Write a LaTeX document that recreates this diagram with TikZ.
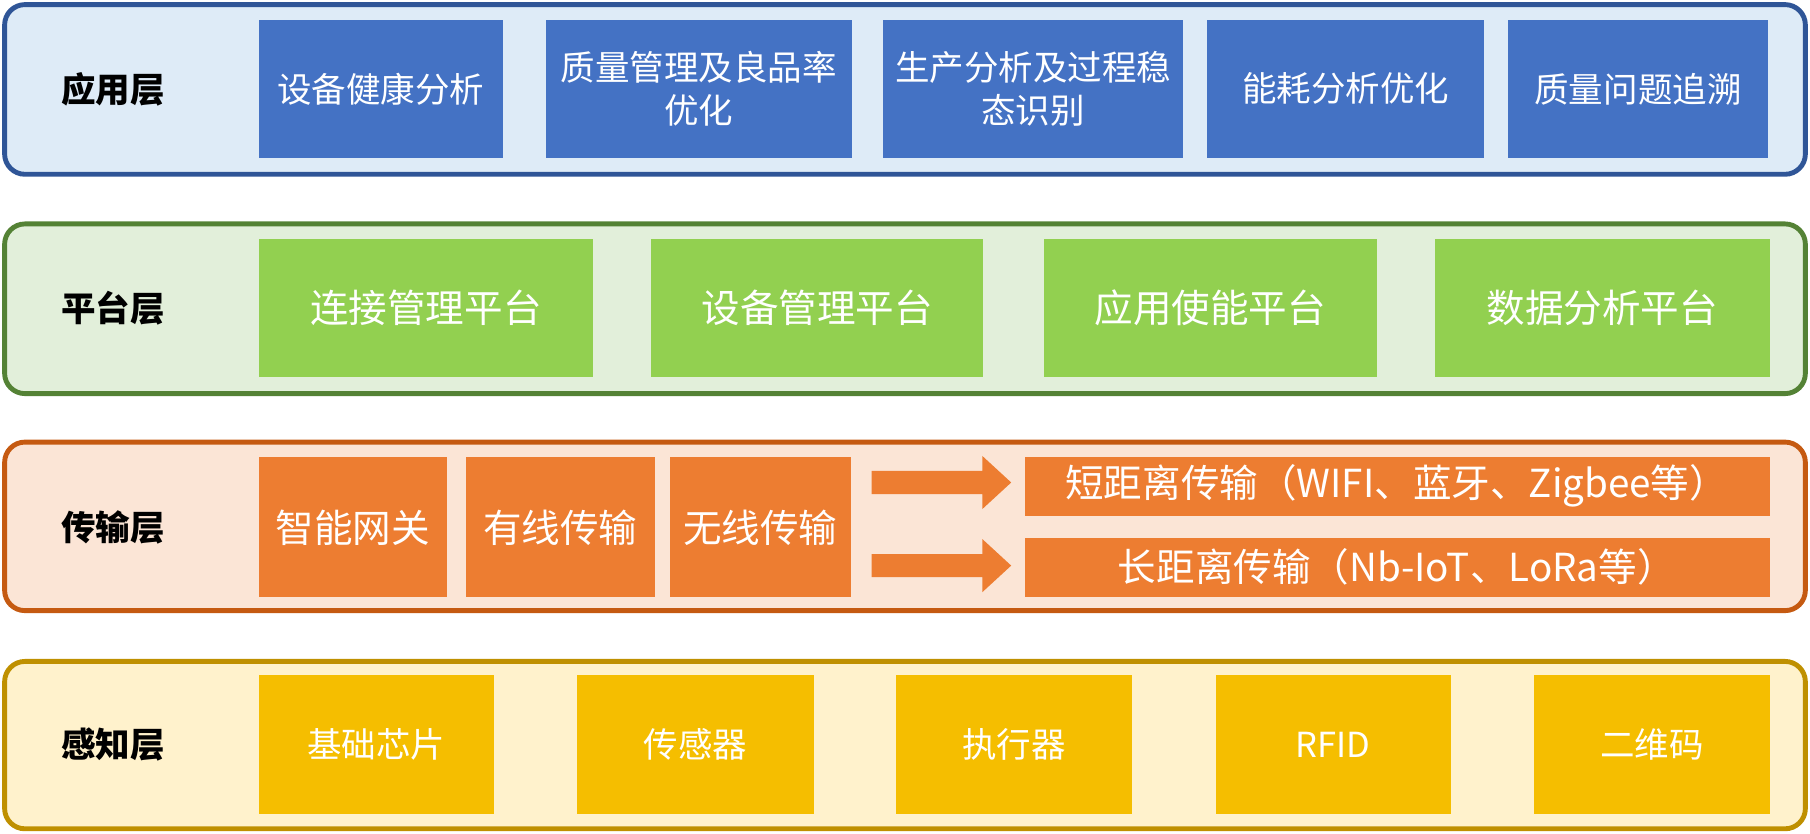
\documentclass[tikz,border=0pt]{standalone}
\usepackage{fontspec}
\setmainfont{Noto Sans CJK SC}
\begin{document}
\begin{tikzpicture}[x=0.01cm,y=-0.01cm,
 layer/.style={rounded corners=5pt,line width=1.2pt},
 bx/.style={text=white,font=\fontsize{8.5}{10.5}\selectfont,align=center},
 lab/.style={font=\fontsize{8.5}{10}\selectfont\bfseries}]
\useasboundingbox (0,0) rectangle (1568,722);
\definecolor{bB}{HTML}{2F5597}\definecolor{fB}{HTML}{DEEBF7}\definecolor{cB}{HTML}{4472C4}
\definecolor{bG}{HTML}{548235}\definecolor{fG}{HTML}{E2EFDA}\definecolor{cG}{HTML}{92D050}
\definecolor{bO}{HTML}{C55A11}\definecolor{fO}{HTML}{FBE5D6}\definecolor{cO}{HTML}{ED7D31}
\definecolor{bY}{HTML}{BF9000}\definecolor{fY}{HTML}{FFF2CC}\definecolor{cY}{HTML}{F5BE00}
% application
\draw[layer,draw=bB,fill=fB] (4,4) rectangle (1564,151);
\node[lab] (l1) at (98,77) {应用层};
\foreach \a/\b/\t [count=\i] in {224/436/设备健康分析,473/738/{质量管理及良品率\\优化},765/1025/{生产分析及过程稳\\态识别},1046/1286/能耗分析优化,1306/1532/质量问题追溯}
 {\fill[cB] (\a,17) rectangle (\b,137); \node[bx] (a\i) at ({(\a+\b)/2},77) {\t};}
% platform
\draw[layer,draw=bG,fill=fG] (4,194) rectangle (1564,341);
\node[lab] (l2) at (98,267) {平台层};
\foreach \a/\b/\t [count=\i] in {224/514/连接管理平台,564/852/设备管理平台,904/1193/应用使能平台,1243/1533/数据分析平台}
 {\fill[cG] (\a,207) rectangle (\b,327); \node[bx,font=\fontsize{9.5}{11}\selectfont] (p\i) at ({(\a+\b)/2},267) {\t};}
% transport
\draw[layer,draw=bO,fill=fO] (4,383) rectangle (1564,529);
\node[lab] (l3) at (98,457) {传输层};
\foreach \a/\b/\t [count=\i] in {224/387/智能网关,404/567/有线传输,580/737/无线传输}
 {\fill[cO] (\a,396) rectangle (\b,517); \node[bx,font=\fontsize{9.5}{11}\selectfont] (t\i) at ({(\a+\b)/2},457) {\t};}
\fill[cO] (888,396) rectangle (1533,447); \node[bx,font=\fontsize{9.5}{11}\selectfont] (s1) at (1210,421) {短距离传输（WIFI、蓝牙、Zigbee等）};
\fill[cO] (888,466) rectangle (1533,517); \node[bx,font=\fontsize{9.5}{11}\selectfont] (s2) at (1210,491) {长距离传输（Nb-IoT、LoRa等）};
\foreach \y in {418,490}
 \fill[cO] (755,\y-10) -- (851,\y-10) -- (851,\y-23) -- (876,\y) -- (851,\y+23) -- (851,\y+10) -- (755,\y+10) -- cycle;
% perception
\draw[layer,draw=bY,fill=fY] (4,573) rectangle (1564,718);
\node[lab] (l4) at (98,645) {感知层};
\foreach \a/\b/\t [count=\i] in {224/428/基础芯片,500/705/传感器,776/981/执行器,1053/1257/RFID,1329/1533/二维码}
 {\fill[cY] (\a,585) rectangle (\b,705); \node[bx] (q\i) at ({(\a+\b)/2},645) {\t};}
\end{tikzpicture}
\end{document}
